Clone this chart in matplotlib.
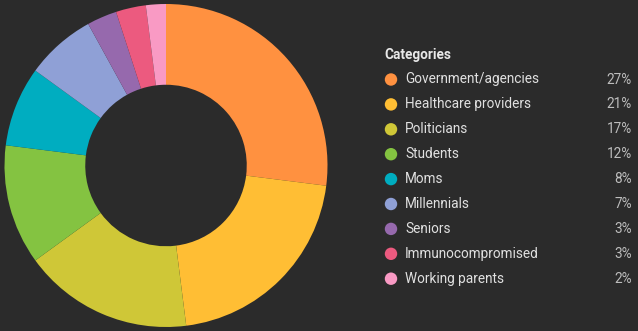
import numpy as np
import matplotlib.pyplot as plt

# data
categories = ['Government/agencies', 'Healthcare providers', 'Politicians', 'Students',
              'Moms', 'Millennials', 'Seniors', 'Immunocompromised', 'Working parents']
shares = [27, 21, 17, 12, 8, 7, 3, 3, 2]
colors = ['#FF9140', '#FFBE34', '#CFC737', '#84C341', '#00ADC0',
          '#8FA0D6', '#9669AD', '#EC5A7F', '#F99AC4']

bg = '#2b2b2b'
W, H = 638, 331

fig = plt.figure(figsize=(W / 100, H / 100), dpi=100, facecolor=bg)

# donut
ax = fig.add_axes([4.5 / W, 4 / H, 323 / W, 323 / H])
ax.set_facecolor(bg)
ax.pie(shares, colors=colors, startangle=90, counterclock=False, radius=1,
       wedgeprops=dict(width=0.5, linewidth=0))
ax.set_xlim(-1, 1)
ax.set_ylim(-1, 1)
ax.set_aspect('equal')
ax.axis('off')

# legend, drawn in pixel coordinates
lg = fig.add_axes([0, 0, 1, 1])
lg.set_xlim(0, W)
lg.set_ylim(H, 0)
lg.axis('off')
lg.patch.set_alpha(0)

lg.text(384, 55, 'Categories', color='#e8e8e8', fontsize=9.8, fontweight='bold',
        va='center', ha='left', family='Roboto')
y0, dy = 79.5, 24.9
for i, (name, val, c) in enumerate(zip(categories, shares, colors)):
    y = y0 + i * dy
    lg.scatter([391], [y], s=80, color=c, edgecolors='none')
    lg.text(405, y, name, color='#e0e0e0', fontsize=9.8, va='center', ha='left',
            family='Roboto')
    lg.text(632, y, f'{val}%', color='#bdbdbd', fontsize=9.8, va='center', ha='right',
            family='Roboto')

fig.savefig('out.png', dpi=100, facecolor=bg)
